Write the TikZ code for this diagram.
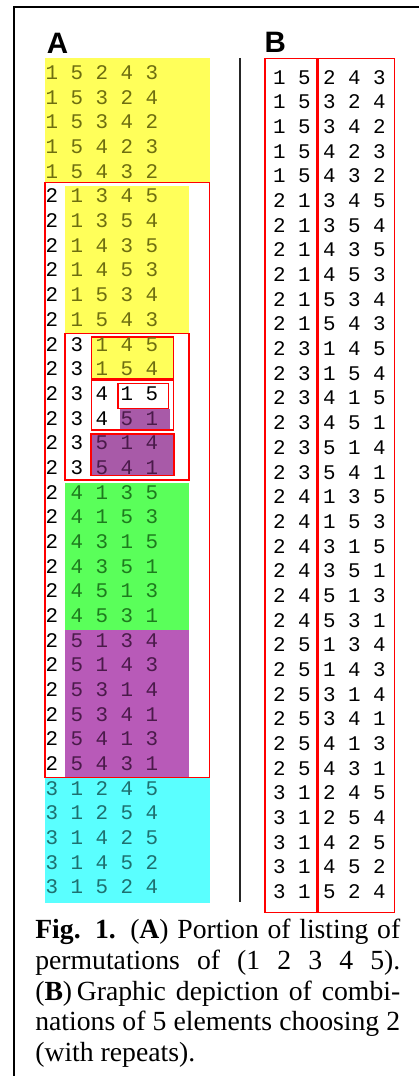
\documentclass[tikz,border=0pt]{standalone}
\usepackage{fontspec}
\setmainfont{Liberation Serif}
\setsansfont{Liberation Sans}
\setmonofont{Liberation Mono}
\definecolor{yelfill}{RGB}{255,255,90}
\definecolor{grnfill}{RGB}{90,255,90}
\definecolor{purfill}{RGB}{184,90,184}
\definecolor{purdark}{RGB}{168,90,168}
\definecolor{cyafill}{RGB}{90,255,255}
\definecolor{yeltxt}{RGB}{110,110,16}
\definecolor{grntxt}{RGB}{30,122,30}
\definecolor{purtxt}{RGB}{74,26,74}
\definecolor{cyatxt}{RGB}{30,112,112}
\tikzset{
  frameline/.style={line width=1.4pt, draw=black, line cap=butt},
  divline/.style={line width=0.9pt, draw=black!85},
  redbox/.style={line width=0.9pt, draw=red},
  permrow/.style={font=\ttfamily\fontsize{14.82}{17}\selectfont, anchor=west, inner sep=0pt},
  panellabel/.style={font=\sffamily\bfseries\fontsize{21}{24}\selectfont, anchor=base west, inner sep=0pt},
  captionline/.style={font=\fontsize{19.7}{21.8}\selectfont, anchor=base west, inner sep=0pt},
}
\begin{document}
\begin{tikzpicture}
\useasboundingbox (0,0) rectangle (10.475,26.9);
\draw[frameline] (0.35,0) -- (0.35,26.7325) -- (10.475,26.7325);
\fill[yelfill] (1.125,22.358) rectangle (5.25,25.45);
\fill[yelfill] (1.625,18.575) rectangle (4.725,22.25);
\fill[grnfill] (1.625,11.15) rectangle (4.725,14.8325);
\fill[purfill] (1.625,7.4825) rectangle (4.725,11.15);
\fill[cyafill] (1.125,4.3325) rectangle (5.25,7.45);
\draw[redbox] (1.125,7.4625) rectangle (5.2425,22.345);
\draw[redbox] (1.625,14.9) rectangle (4.725,18.5675);
\draw[redbox, fill=yelfill] (2.2925,17.425) rectangle (4.3325,18.475);
\draw[redbox] (2.2925,16.15) rectangle (4.3325,17.3875);
\draw[redbox, fill=white] (2.95,16.6925) rectangle (4.2075,17.3075);
\fill[purdark] (3.0,16.1675) rectangle (4.25,16.6825);
\draw[redbox, fill=purdark] (2.275,15.0175) rectangle (4.35,16.05);
\draw[divline] (6.0,25.45) -- (6.0,4.3575);
\draw[redbox] (6.625,4.095) rectangle (7.9175,25.4325);
\draw[redbox] (7.95,4.095) rectangle (9.8625,25.4325);
\node[panellabel] (labA) at (1.1675,25.5675) {A};
\node[panellabel] (labB) at (6.6075,25.575) {B};
\node[permrow, text=yeltxt] (a1) at (1.136,25.083) {1 5 2 4 3};
\node[permrow, text=yeltxt] (a2) at (1.136,24.466) {1 5 3 2 4};
\node[permrow, text=yeltxt] (a3) at (1.136,23.849) {1 5 3 4 2};
\node[permrow, text=yeltxt] (a4) at (1.136,23.232) {1 5 4 2 3};
\node[permrow, text=yeltxt] (a5) at (1.136,22.615) {1 5 4 3 2};
\node[permrow] (a6) at (1.136,21.998) {2 \textcolor{yeltxt}{1 3 4 5}};
\node[permrow] (a7) at (1.136,21.381) {2 \textcolor{yeltxt}{1 3 5 4}};
\node[permrow] (a8) at (1.136,20.764) {2 \textcolor{yeltxt}{1 4 3 5}};
\node[permrow] (a9) at (1.136,20.147) {2 \textcolor{yeltxt}{1 4 5 3}};
\node[permrow] (a10) at (1.136,19.530) {2 \textcolor{yeltxt}{1 5 3 4}};
\node[permrow] (a11) at (1.136,18.913) {2 \textcolor{yeltxt}{1 5 4 3}};
\node[permrow] (a12) at (1.136,18.296) {2 3 \textcolor{yeltxt}{1 4 5}};
\node[permrow] (a13) at (1.136,17.679) {2 3 \textcolor{yeltxt}{1 5 4}};
\node[permrow] (a14) at (1.136,17.062) {2 3 4 1 5};
\node[permrow] (a15) at (1.136,16.445) {2 3 4 \textcolor{purtxt}{5 1}};
\node[permrow] (a16) at (1.136,15.828) {2 3 \textcolor{purtxt}{5 1 4}};
\node[permrow] (a17) at (1.136,15.211) {2 3 \textcolor{purtxt}{5 4 1}};
\node[permrow] (a18) at (1.136,14.594) {2 \textcolor{grntxt}{4 1 3 5}};
\node[permrow] (a19) at (1.136,13.977) {2 \textcolor{grntxt}{4 1 5 3}};
\node[permrow] (a20) at (1.136,13.360) {2 \textcolor{grntxt}{4 3 1 5}};
\node[permrow] (a21) at (1.136,12.743) {2 \textcolor{grntxt}{4 3 5 1}};
\node[permrow] (a22) at (1.136,12.126) {2 \textcolor{grntxt}{4 5 1 3}};
\node[permrow] (a23) at (1.136,11.509) {2 \textcolor{grntxt}{4 5 3 1}};
\node[permrow] (a24) at (1.136,10.892) {2 \textcolor{purtxt}{5 1 3 4}};
\node[permrow] (a25) at (1.136,10.275) {2 \textcolor{purtxt}{5 1 4 3}};
\node[permrow] (a26) at (1.136,9.658) {2 \textcolor{purtxt}{5 3 1 4}};
\node[permrow] (a27) at (1.136,9.041) {2 \textcolor{purtxt}{5 3 4 1}};
\node[permrow] (a28) at (1.136,8.424) {2 \textcolor{purtxt}{5 4 1 3}};
\node[permrow] (a29) at (1.136,7.807) {2 \textcolor{purtxt}{5 4 3 1}};
\node[permrow, text=cyatxt] (a30) at (1.136,7.190) {3 1 2 4 5};
\node[permrow, text=cyatxt] (a31) at (1.136,6.573) {3 1 2 5 4};
\node[permrow, text=cyatxt] (a32) at (1.136,5.956) {3 1 4 2 5};
\node[permrow, text=cyatxt] (a33) at (1.136,5.339) {3 1 4 5 2};
\node[permrow, text=cyatxt] (a34) at (1.136,4.722) {3 1 5 2 4};
\node[permrow] (b1) at (6.819,24.968) {1 5 2 4 3};
\node[permrow] (b2) at (6.819,24.351) {1 5 3 2 4};
\node[permrow] (b3) at (6.819,23.734) {1 5 3 4 2};
\node[permrow] (b4) at (6.819,23.117) {1 5 4 2 3};
\node[permrow] (b5) at (6.819,22.500) {1 5 4 3 2};
\node[permrow] (b6) at (6.819,21.883) {2 1 3 4 5};
\node[permrow] (b7) at (6.819,21.266) {2 1 3 5 4};
\node[permrow] (b8) at (6.819,20.649) {2 1 4 3 5};
\node[permrow] (b9) at (6.819,20.032) {2 1 4 5 3};
\node[permrow] (b10) at (6.819,19.415) {2 1 5 3 4};
\node[permrow] (b11) at (6.819,18.798) {2 1 5 4 3};
\node[permrow] (b12) at (6.819,18.181) {2 3 1 4 5};
\node[permrow] (b13) at (6.819,17.564) {2 3 1 5 4};
\node[permrow] (b14) at (6.819,16.947) {2 3 4 1 5};
\node[permrow] (b15) at (6.819,16.330) {2 3 4 5 1};
\node[permrow] (b16) at (6.819,15.713) {2 3 5 1 4};
\node[permrow] (b17) at (6.819,15.096) {2 3 5 4 1};
\node[permrow] (b18) at (6.819,14.479) {2 4 1 3 5};
\node[permrow] (b19) at (6.819,13.862) {2 4 1 5 3};
\node[permrow] (b20) at (6.819,13.245) {2 4 3 1 5};
\node[permrow] (b21) at (6.819,12.628) {2 4 3 5 1};
\node[permrow] (b22) at (6.819,12.011) {2 4 5 1 3};
\node[permrow] (b23) at (6.819,11.394) {2 4 5 3 1};
\node[permrow] (b24) at (6.819,10.777) {2 5 1 3 4};
\node[permrow] (b25) at (6.819,10.160) {2 5 1 4 3};
\node[permrow] (b26) at (6.819,9.543) {2 5 3 1 4};
\node[permrow] (b27) at (6.819,8.926) {2 5 3 4 1};
\node[permrow] (b28) at (6.819,8.309) {2 5 4 1 3};
\node[permrow] (b29) at (6.819,7.692) {2 5 4 3 1};
\node[permrow] (b30) at (6.819,7.075) {3 1 2 4 5};
\node[permrow] (b31) at (6.819,6.458) {3 1 2 5 4};
\node[permrow] (b32) at (6.819,5.841) {3 1 4 2 5};
\node[permrow] (b33) at (6.819,5.224) {3 1 4 5 2};
\node[permrow] (b34) at (6.819,4.607) {3 1 5 2 4};
\node[captionline] (cap1) at (0.875,3.425) {\makebox[9.125cm][s]{\textbf{Fig. 1.} (\textbf{A}) Portion of listing of}};
\node[captionline] (cap2) at (0.875,2.6575) {\makebox[9.125cm][s]{permutations of (1 2 3 4 5).}};
\node[captionline] (cap3) at (0.875,1.8925) {\makebox[9.125cm][s]{(\textbf{B})\thinspace Graphic depiction of combi-}};
\node[captionline] (cap4) at (0.875,1.125) {\makebox[9.125cm][s]{nations of 5 elements choosing 2}};
\node[captionline] (cap5) at (0.875,0.3575) {(with repeats).};
\end{tikzpicture}
\end{document}
